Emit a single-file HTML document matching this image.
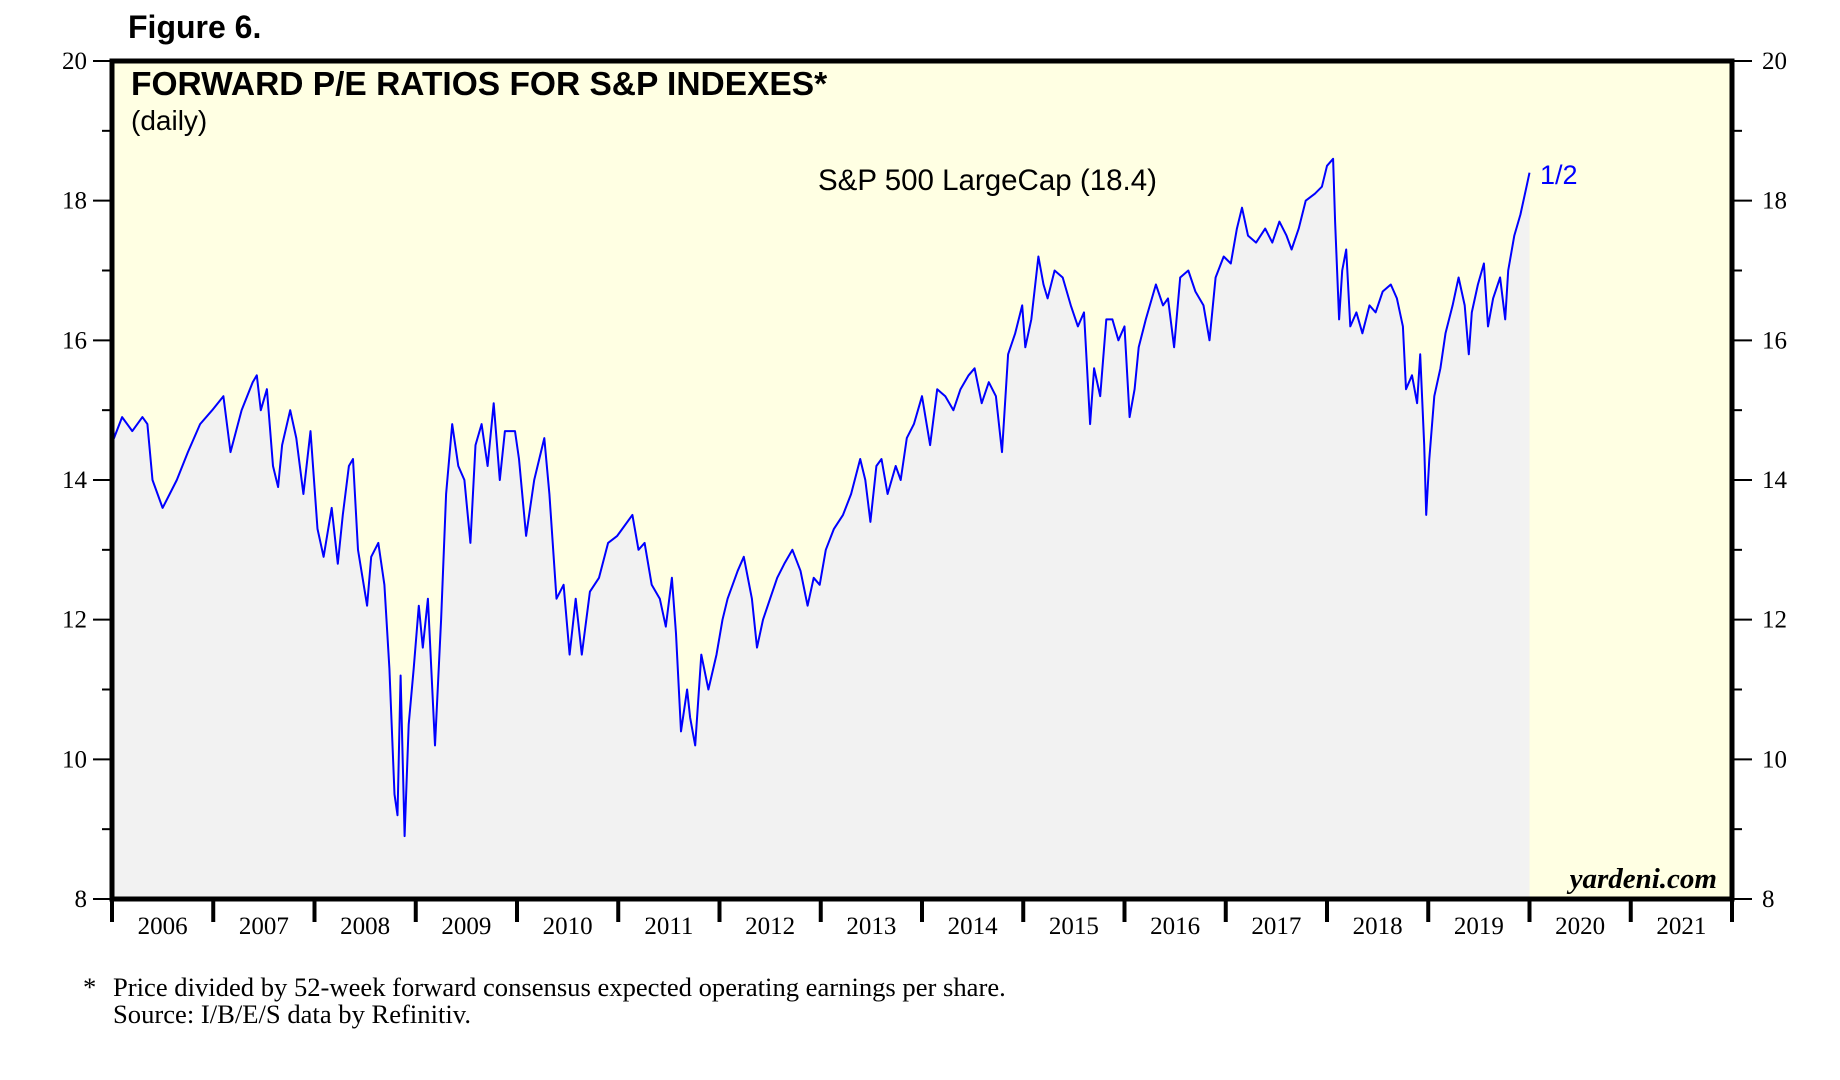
<!DOCTYPE html>
<html><head><meta charset="utf-8"><style>
html,body{margin:0;padding:0;background:#fff;width:1840px;height:1080px;overflow:hidden}
svg{display:block}
.serif{font-family:"Liberation Serif",serif}
.sans{font-family:"Liberation Sans",sans-serif}
</style></head><body>
<svg id="chart" width="1840" height="1080" viewBox="0 0 1840 1080">
<text x="128" y="38" class="sans" font-size="32" font-weight="bold">Figure 6.</text>
<rect x="112" y="61" width="1620" height="838" fill="#FFFFE3"/>
<g id="fillg"></g>
<g id="lineg"></g>
<rect x="112" y="61" width="1620" height="838" fill="none" stroke="#000" stroke-width="5"/>
<text x="131" y="95" class="sans" font-size="33.5" font-weight="bold">FORWARD P/E RATIOS FOR S&amp;P INDEXES*</text>
<text x="131" y="130" class="sans" font-size="28">(daily)</text>
<text x="818" y="190" class="sans" font-size="29.5">S&amp;P 500 LargeCap (18.4)</text>
<text x="1540" y="184" class="sans" font-size="27" fill="#0000FF">1/2</text>
<text x="1717" y="888" class="serif" font-size="29" font-weight="bold" font-style="italic" text-anchor="end">yardeni.com</text>
<g id="axes"></g>
<text x="83" y="996" class="serif" font-size="26.6">*</text>
<text x="113" y="996" class="serif" font-size="26.6">Price divided by 52-week forward consensus expected operating earnings per share.</text>
<text x="113" y="1023" class="serif" font-size="26.6">Source: I/B/E/S data by Refinitiv.</text>
</svg>
<script>
const yTicks=[8,10,12,14,16,18,20];
const yMinor=[9,11,13,15,17,19];
const years=[2006,2007,2008,2009,2010,2011,2012,2013,2014,2015,2016,2017,2018,2019,2020,2021];
const dates=[2006.0,2006.02,2006.1,2006.2,2006.3,2006.35,2006.4,2006.5,2006.57,2006.64,2006.75,2006.87,2006.99,2007.1,2007.17,2007.28,2007.39,2007.43,2007.47,2007.53,2007.59,2007.64,2007.68,2007.76,2007.82,2007.89,2007.96,2008.03,2008.09,2008.17,2008.23,2008.28,2008.34,2008.38,2008.43,2008.52,2008.56,2008.63,2008.69,2008.74,2008.79,2008.82,2008.85,2008.89,2008.93,2008.98,2009.03,2009.07,2009.12,2009.19,2009.25,2009.3,2009.36,2009.42,2009.48,2009.54,2009.59,2009.65,2009.71,2009.77,2009.83,2009.88,2009.98,2010.02,2010.09,2010.17,2010.27,2010.32,2010.39,2010.46,2010.52,2010.58,2010.64,2010.72,2010.81,2010.9,2010.99,2011.04,2011.14,2011.2,2011.26,2011.33,2011.41,2011.47,2011.53,2011.57,2011.62,2011.68,2011.71,2011.76,2011.82,2011.89,2011.97,2012.03,2012.08,2012.18,2012.24,2012.32,2012.37,2012.43,2012.5,2012.57,2012.64,2012.72,2012.8,2012.87,2012.93,2012.99,2013.05,2013.13,2013.22,2013.3,2013.39,2013.44,2013.49,2013.55,2013.6,2013.66,2013.74,2013.79,2013.85,2013.92,2014.0,2014.08,2014.15,2014.23,2014.31,2014.38,2014.46,2014.52,2014.59,2014.66,2014.73,2014.79,2014.85,2014.92,2014.99,2015.02,2015.08,2015.15,2015.2,2015.24,2015.31,2015.39,2015.47,2015.54,2015.6,2015.66,2015.7,2015.76,2015.82,2015.88,2015.94,2016.0,2016.05,2016.1,2016.14,2016.21,2016.31,2016.38,2016.43,2016.49,2016.55,2016.63,2016.7,2016.78,2016.84,2016.9,2016.98,2017.05,2017.11,2017.16,2017.22,2017.3,2017.39,2017.46,2017.53,2017.6,2017.65,2017.72,2017.79,2017.88,2017.95,2018.0,2018.06,2018.08,2018.12,2018.15,2018.19,2018.23,2018.29,2018.35,2018.42,2018.48,2018.55,2018.63,2018.69,2018.75,2018.78,2018.84,2018.89,2018.92,2018.96,2018.98,2019.01,2019.06,2019.12,2019.17,2019.24,2019.3,2019.36,2019.4,2019.43,2019.49,2019.55,2019.59,2019.64,2019.71,2019.76,2019.79,2019.85,2019.91,2019.97,2020.0];
const peValues=[15.0,14.6,14.9,14.7,14.9,14.8,14.0,13.6,13.8,14.0,14.4,14.8,15.0,15.2,14.4,15.0,15.4,15.5,15.0,15.3,14.2,13.9,14.5,15.0,14.6,13.8,14.7,13.3,12.9,13.6,12.8,13.5,14.2,14.3,13.0,12.2,12.9,13.1,12.5,11.3,9.5,9.2,11.2,8.9,10.5,11.3,12.2,11.6,12.3,10.2,12.0,13.8,14.8,14.2,14.0,13.1,14.5,14.8,14.2,15.1,14.0,14.7,14.7,14.3,13.2,14.0,14.6,13.8,12.3,12.5,11.5,12.3,11.5,12.4,12.6,13.1,13.2,13.3,13.5,13.0,13.1,12.5,12.3,11.9,12.6,11.8,10.4,11.0,10.6,10.2,11.5,11.0,11.5,12.0,12.3,12.7,12.9,12.3,11.6,12.0,12.3,12.6,12.8,13.0,12.7,12.2,12.6,12.5,13.0,13.3,13.5,13.8,14.3,14.0,13.4,14.2,14.3,13.8,14.2,14.0,14.6,14.8,15.2,14.5,15.3,15.2,15.0,15.3,15.5,15.6,15.1,15.4,15.2,14.4,15.8,16.1,16.5,15.9,16.3,17.2,16.8,16.6,17.0,16.9,16.5,16.2,16.4,14.8,15.6,15.2,16.3,16.3,16.0,16.2,14.9,15.3,15.9,16.3,16.8,16.5,16.6,15.9,16.9,17.0,16.7,16.5,16.0,16.9,17.2,17.1,17.6,17.9,17.5,17.4,17.6,17.4,17.7,17.5,17.3,17.6,18.0,18.1,18.2,18.5,18.6,17.7,16.3,17.0,17.3,16.2,16.4,16.1,16.5,16.4,16.7,16.8,16.6,16.2,15.3,15.5,15.1,15.8,14.5,13.5,14.3,15.2,15.6,16.1,16.5,16.9,16.5,15.8,16.4,16.8,17.1,16.2,16.6,16.9,16.3,17.0,17.5,17.8,18.2,18.4];

const L=112,R=1732,T=61,B=899;
function xs(t){return L+(t-2006)*(R-L)/16;}
function ys(v){return B-(v-8)*(B-T)/12;}
const NS='http://www.w3.org/2000/svg';
function mk(tag,attrs){const e=document.createElementNS(NS,tag);for(const k in attrs)e.setAttribute(k,attrs[k]);return e;}

let d='';
for(let i=0;i<dates.length;i++){d+=(i?'L':'M')+xs(dates[i]).toFixed(1)+','+ys(peValues[i]).toFixed(1);}
const fill=mk('path',{d:d+'L'+xs(dates[dates.length-1]).toFixed(1)+','+B+'L'+xs(dates[0]).toFixed(1)+','+B+'Z',fill:'#F2F2F2'});


document.getElementById('fillg').appendChild(fill);
const line=mk('path',{d:d,fill:'none',stroke:'#0000FF','stroke-width':2,'stroke-linejoin':'round'});


document.getElementById('lineg').appendChild(line);

const ax=document.getElementById('axes');
yTicks.forEach(v=>{
  const y=ys(v);
  const tl=mk('line',{x1:93,x2:112,y1:y,y2:y,stroke:'#000','stroke-width':2});
  
  
  ax.appendChild(tl);
  const tr=mk('line',{x1:1732,x2:1752,y1:y,y2:y,stroke:'#000','stroke-width':2});
  
  
  ax.appendChild(tr);
  const a=mk('text',{x:87,y:y+8,'text-anchor':'end',class:'serif','font-size':25});
  a.textContent=v;
  
  
  ax.appendChild(a);
  const b=mk('text',{x:1762,y:y+8,class:'serif','font-size':25});
  b.textContent=v;
  
  
  ax.appendChild(b);
});
yMinor.forEach(v=>{
  const y=ys(v);
  const a=mk('line',{x1:102,x2:112,y1:y,y2:y,stroke:'#000','stroke-width':2});
  
  
  ax.appendChild(a);
  const b=mk('line',{x1:1732,x2:1742,y1:y,y2:y,stroke:'#000','stroke-width':2});
  
  
  ax.appendChild(b);
});
years.concat([2022]).forEach(yr=>{
  const x=xs(yr);
  const t=mk('line',{x1:x,x2:x,y1:B,y2:922,stroke:'#000','stroke-width':4});
  
  
  ax.appendChild(t);
});
years.forEach(yr=>{
  const t=mk('text',{x:xs(yr+0.5),y:934,'text-anchor':'middle',class:'serif','font-size':25});
  t.textContent=yr;
  
  
  ax.appendChild(t);
});
</script>
</body></html>
